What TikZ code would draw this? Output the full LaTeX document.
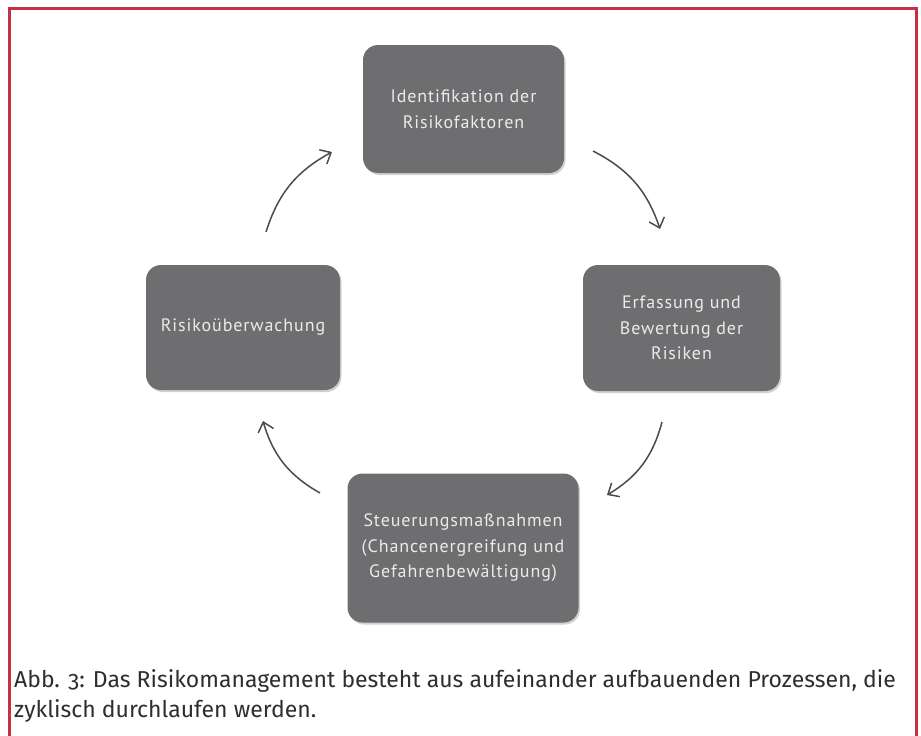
\documentclass[tikz,border=0pt]{standalone}
\usepackage{fontspec}
\setmainfont{Fira Sans}[Numbers=OldStyle]
\newfontfamily\stagefont{PT Sans}[LetterSpace=5]
\usetikzlibrary{positioning,arrows.meta,shadows}
\definecolor{framered}{RGB}{196,48,70}
\definecolor{stagegray}{RGB}{110,110,112}
\definecolor{cycgray}{RGB}{75,75,75}
\tikzset{stage/.style={fill=stagegray, rounded corners=15pt, text=white!92!black, align=center, inner sep=4pt, font=\stagefont\fontsize{18}{25.5}\selectfont, drop shadow={shadow xshift=1.5pt, shadow yshift=-2pt, fill=black!30, opacity=0.6}}}
\tikzset{cyc/.style={draw=cycgray, line width=1.5pt, -{Straight Barb[length=9pt,width=16pt,line width=1.5pt]}, bend left=22}}

\begin{document}
\begin{tikzpicture}[x=1pt,y=-1pt]
\useasboundingbox (0,0) rectangle (921,736);
\draw[framered, line width=3pt] (9,736) -- (9,8) -- (916,8) -- (916,736);
% the four stages
\node[stage, minimum width=201pt, minimum height=128pt] (ident) at (463.5,109) {Identifikation der\\Risikofaktoren};
\node[stage, minimum width=197pt, minimum height=126pt] (erfass) at (681.5,328) {Erfassung und\\Bewertung der\\Risiken};
\node[stage, minimum width=231pt, minimum height=149pt] (steuer) at (463,548) {Steuerungsmaßnahmen\\(Chancenergreifung und\\Gefahrenbewältigung)};
\node[stage, minimum width=194pt, minimum height=125pt] (ueberw) at (243,327.5) {Risikoüberwachung};
% arrow ends
\coordinate (c1a) at (593,151);
\coordinate (c1b) at (660,229);
\coordinate (c2a) at (662,422);
\coordinate (c2b) at (607,495);
\coordinate (c3a) at (320,493);
\coordinate (c3b) at (263,421);
\coordinate (c4a) at (266,232);
\coordinate (c4b) at (332,152);
\draw[cyc] (c1a) to (c1b);
\draw[cyc] (c2a) to (c2b);
\draw[cyc] (c3a) to (c3b);
\draw[cyc] (c4a) to (c4b);
% caption
\node[anchor=north west, align=left, inner sep=0pt, text=black!82, font=\fontsize{23}{30}\selectfont] (caption) at (14,669)
    {Abb. 3: Das Risikomanagement besteht aus aufeinander aufbauenden Prozessen, die\\zyklisch durchlaufen werden.};
\end{tikzpicture}
\end{document}
